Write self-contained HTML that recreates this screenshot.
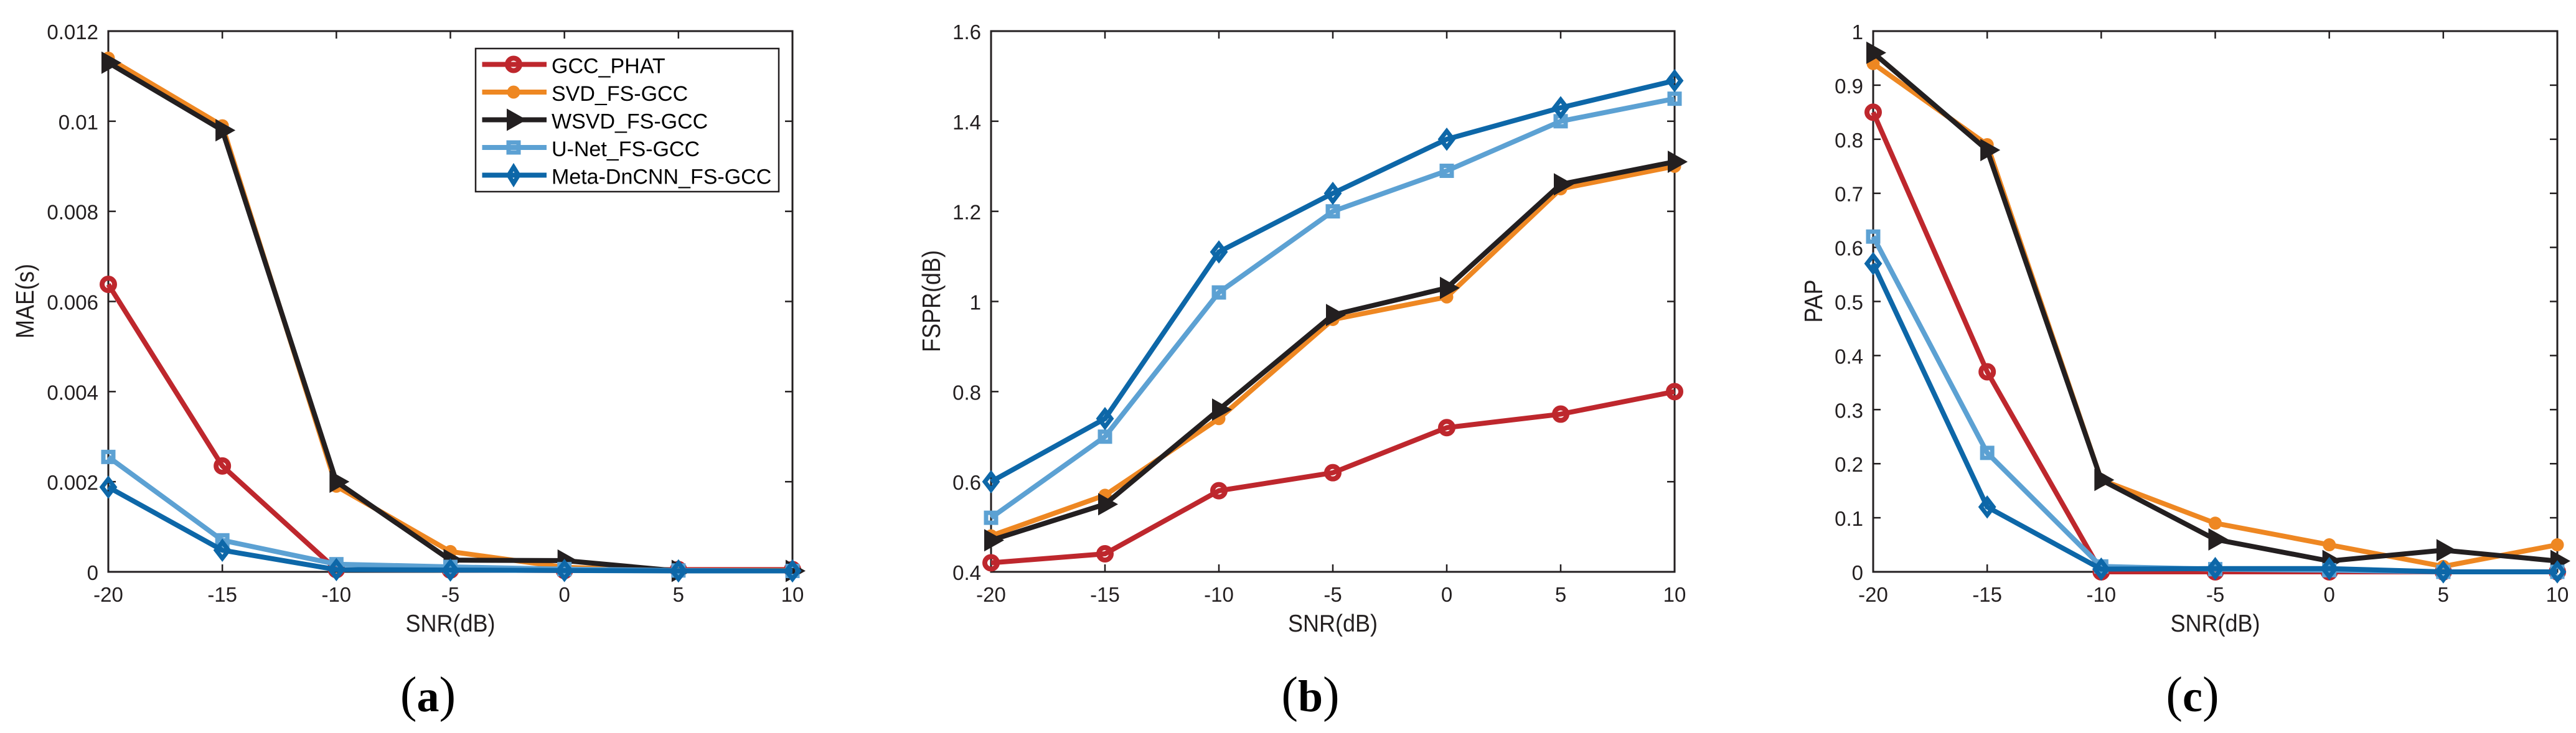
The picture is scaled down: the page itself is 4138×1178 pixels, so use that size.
<!DOCTYPE html>
<html lang="en">
<head>
<meta charset="utf-8">
<title>MAE, FSPR and PAP versus SNR</title>
<style>
html,body{margin:0;padding:0;background:#fff;width:4138px;height:1178px;overflow:hidden}
svg{display:block}
text{font-family:"Liberation Sans",Arial,sans-serif;fill:#231f20}
.tick{font-size:33px}
.title{font-size:36px}
.leg{font-size:34px;fill:#000}
.cap{font-family:"Liberation Serif",serif;font-size:80px;fill:#000}
</style>
</head>
<body>
<svg id="fig" xmlns="http://www.w3.org/2000/svg" width="4138" height="1178" viewBox="0 0 4138 1178"></svg>
<script>
const snrCategories = [-20, -15, -10, -5, 0, 5, 10];
const seriesNames = ['GCC_PHAT', 'SVD_FS-GCC', 'WSVD_FS-GCC', 'U-Net_FS-GCC', 'Meta-DnCNN_FS-GCC'];

const maeGcc = [0.00638, 0.00235, 0.00005, 0.00004, 0.00003, 0.00005, 0.00005];
const maeSvd = [0.0114, 0.0099, 0.0019, 0.00045, 0.0001, 0.00003, 0.00003];
const maeWsvd = [0.0113, 0.0098, 0.002, 0.00026, 0.00025, 0.00002, 0.00002];
const maeUnet = [0.00255, 0.0007, 0.00017, 0.00011, 0.00006, 0.00003, 0.00002];
const maeMeta = [0.00188, 0.00048, 0.00005, 0.00004, 0.00003, 0.00002, 0.00002];
const maeTicks = [0, 0.002, 0.004, 0.006, 0.008, 0.01, 0.012];

const fsprGcc = [0.42, 0.44, 0.58, 0.62, 0.72, 0.75, 0.80];
const fsprSvd = [0.48, 0.57, 0.74, 0.96, 1.01, 1.25, 1.30];
const fsprWsvd = [0.47, 0.55, 0.76, 0.97, 1.03, 1.26, 1.31];
const fsprUnet = [0.52, 0.70, 1.02, 1.20, 1.29, 1.40, 1.45];
const fsprMeta = [0.60, 0.74, 1.11, 1.24, 1.36, 1.43, 1.49];
const fsprTicks = [0.4, 0.6, 0.8, 1, 1.2, 1.4, 1.6];

const papGcc = [0.85, 0.37, 0, 0, 0, 0, 0];
const papSvd = [0.94, 0.79, 0.17, 0.09, 0.05, 0.01, 0.05];
const papWsvd = [0.96, 0.78, 0.17, 0.06, 0.02, 0.04, 0.02];
const papUnet = [0.62, 0.22, 0.01, 0.005, 0.003, 0, 0];
const papMeta = [0.57, 0.12, 0.005, 0.006, 0.006, 0, 0];
const papTicks = [0, 0.1, 0.2, 0.3, 0.4, 0.5, 0.6, 0.7, 0.8, 0.9, 1];

const NS = 'http://www.w3.org/2000/svg';
const fig = document.getElementById('fig');
const AXIS = '#231f20';
const styles = [
  {key: 'gcc', color: '#be272d', marker: 'circle'},
  {key: 'svd', color: '#ee8722', marker: 'dot'},
  {key: 'wsvd', color: '#231f20', marker: 'triangle'},
  {key: 'unet', color: '#5ca1d3', marker: 'square'},
  {key: 'meta', color: '#0d67a8', marker: 'diamond'}
];

function mk(parent, tag, attrs, text) {
  const el = document.createElementNS(NS, tag);
  for (const k in attrs) el.setAttribute(k, attrs[k]);
  if (text !== undefined) el.textContent = text;
  parent.appendChild(el);
  return el;
}

function drawMarker(parent, type, color, x, y, diamondHalfWidth) {
  let el;
  if (type === 'circle') {
    el = mk(parent, 'circle', {cx: x, cy: y, r: 10, fill: 'none', stroke: color, 'stroke-width': 8});
  } else if (type === 'dot') {
    el = mk(parent, 'circle', {cx: x, cy: y, r: 10.5, fill: color});
  } else if (type === 'triangle') {
    el = mk(parent, 'polygon', {points: (x - 11) + ',' + (y - 18) + ' ' + (x + 21) + ',' + y + ' ' + (x - 11) + ',' + (y + 18), fill: color});
  } else if (type === 'square') {
    el = mk(parent, 'rect', {x: x - 8, y: y - 8, width: 16, height: 16, fill: 'none', stroke: color, 'stroke-width': 7});
  } else {
    const hw = diamondHalfWidth;
    el = mk(parent, 'polygon', {points: x + ',' + (y - 13) + ' ' + (x + hw) + ',' + y + ' ' + x + ',' + (y + 13) + ' ' + (x - hw) + ',' + y, fill: 'none', stroke: color, 'stroke-width': 7});
  }
  
  
  return el;
}

function drawChart(cfg) {
  const g = mk(fig, 'g', {});
  
  
  const L = cfg.left, R = cfg.right, T = 50, B = 919;
  const xScale = v => L + (v - snrCategories[0]) / (snrCategories[snrCategories.length - 1] - snrCategories[0]) * (R - L);
  const yScale = v => B - (v - cfg.ticks[0]) / (cfg.ticks[cfg.ticks.length - 1] - cfg.ticks[0]) * (B - T);

  const frame = mk(g, 'rect', {x: L, y: T, width: R - L, height: B - T, fill: 'none', stroke: AXIS, 'stroke-width': 3});
  
  

  snrCategories.forEach(c => {
    const x = xScale(c);
    const t1 = mk(g, 'line', {x1: x, x2: x, y1: B, y2: B - 12, stroke: AXIS, 'stroke-width': 2.5});
    
    
    const t2 = mk(g, 'line', {x1: x, x2: x, y1: T, y2: T + 12, stroke: AXIS, 'stroke-width': 2.5});
    
    
    const lab = mk(g, 'text', {x: x, y: 967, 'text-anchor': 'middle', class: 'tick'}, String(c));
    
    
  });
  cfg.ticks.forEach(v => {
    const y = yScale(v);
    const t1 = mk(g, 'line', {x1: L, x2: L + 12, y1: y, y2: y, stroke: AXIS, 'stroke-width': 2.5});
    
    
    const t2 = mk(g, 'line', {x1: R, x2: R - 12, y1: y, y2: y, stroke: AXIS, 'stroke-width': 2.5});
    
    
    const lab = mk(g, 'text', {x: L - 16, y: y + 13, 'text-anchor': 'end', class: 'tick'}, String(v));
    
    
  });

  const xt = mk(g, 'text', {transform: 'translate(' + ((L + R) / 2) + ',1015) scale(1,1.08)', 'text-anchor': 'middle', class: 'title'}, 'SNR(dB)');
  
  
  const yt = mk(g, 'text', {transform: 'translate(' + cfg.yTitleX + ',484) rotate(-90) scale(1,1.12)', 'text-anchor': 'middle', class: 'title'}, cfg.yTitle);
  
  

  cfg.series.forEach((vals, i) => {
    const st = styles[i];
    const sg = mk(g, 'g', {});
    
    
    const pts = vals.map((v, j) => xScale(snrCategories[j]) + ',' + yScale(v)).join(' ');
    const line = mk(sg, 'polyline', {points: pts, fill: 'none', stroke: st.color, 'stroke-width': 8, 'stroke-linejoin': 'miter'});
    
    
    vals.forEach((v, j) => drawMarker(sg, st.marker, st.color, xScale(snrCategories[j]), yScale(v), 10));
  });

  const cap = mk(g, 'text', {x: cfg.capX, y: 1143, 'text-anchor': 'middle', class: 'cap'});
  
  
  mk(cap, 'tspan', {}, '(');
  mk(cap, 'tspan', {'font-weight': 'bold', 'font-size': '72'}, cfg.capLetter);
  mk(cap, 'tspan', {}, ')');
}

drawChart({name: 'chart-mae', left: 174, right: 1273, ticks: maeTicks, yTitle: 'MAE(s)', yTitleX: 54, capX: 687.5, capLetter: 'a',
  series: [maeGcc, maeSvd, maeWsvd, maeUnet, maeMeta]});
drawChart({name: 'chart-fspr', left: 1592, right: 2690, ticks: fsprTicks, yTitle: 'FSPR(dB)', yTitleX: 1510, capX: 2105, capLetter: 'b',
  series: [fsprGcc, fsprSvd, fsprWsvd, fsprUnet, fsprMeta]});
drawChart({name: 'chart-pap', left: 3009, right: 4108, ticks: papTicks, yTitle: 'PAP', yTitleX: 2927, capX: 3522, capLetter: 'c',
  series: [papGcc, papSvd, papWsvd, papUnet, papMeta]});

const legend = mk(fig, 'g', {});


const legBox = mk(legend, 'rect', {x: 764, y: 78, width: 487, height: 230, fill: '#fff', stroke: AXIS, 'stroke-width': 2.5});


seriesNames.forEach((name, i) => {
  const st = styles[i];
  const y = 103.5 + i * 44.5;
  const entry = mk(legend, 'g', {});
  
  
  const ln = mk(entry, 'line', {x1: 774.5, x2: 878, y1: y, y2: y, stroke: st.color, 'stroke-width': 8});
  
  
  drawMarker(entry, st.marker, st.color, 825, y, 8);
  const tx = mk(entry, 'text', {x: 886, y: y + 14, class: 'leg'}, name);
  
  
});
</script>
</body>
</html>
